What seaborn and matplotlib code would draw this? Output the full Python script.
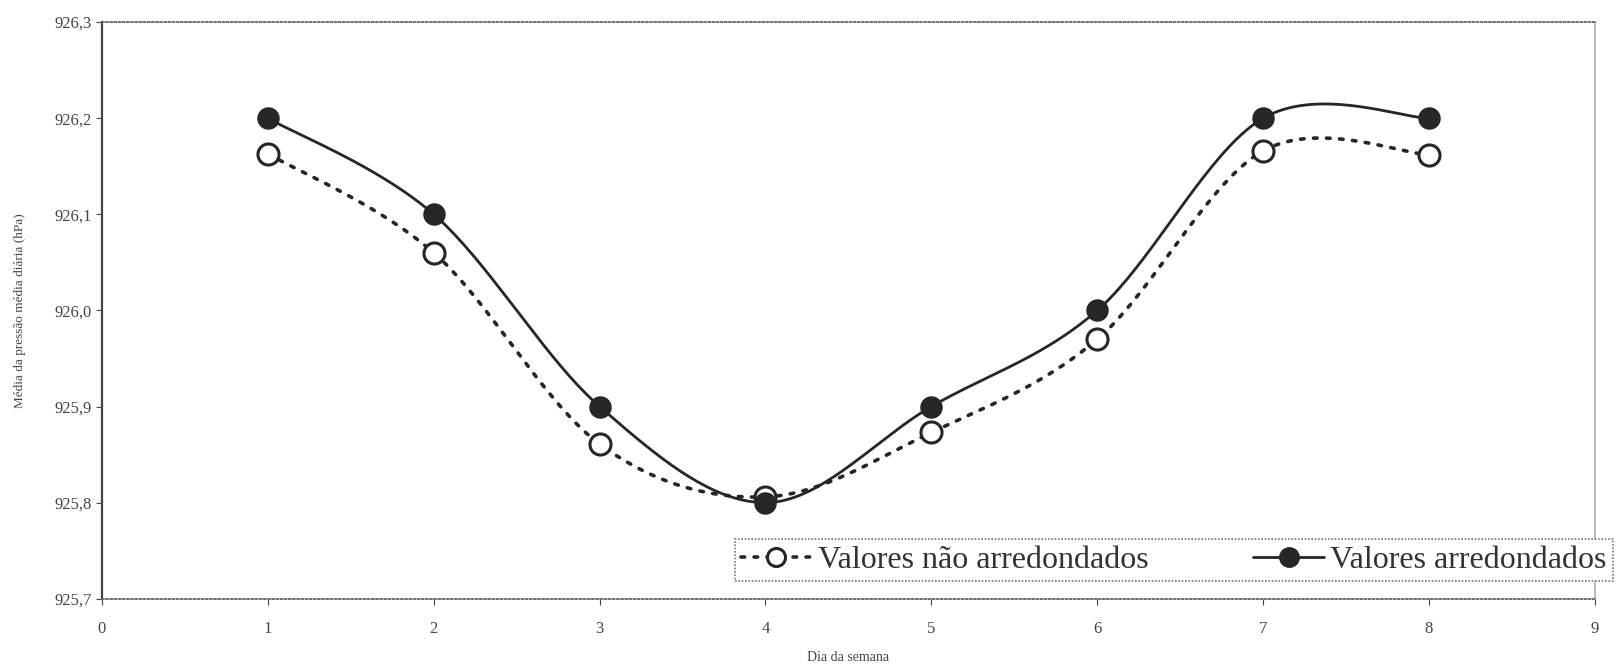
import numpy as np
import pandas as pd
import matplotlib
matplotlib.use("Agg")
import matplotlib.pyplot as plt
import seaborn as sns
from matplotlib.lines import Line2D

# ---- data ----
dias = [1, 2, 3, 4, 5, 6, 7, 8]
nao_arredondados = [926.163, 926.060, 925.861, 925.806, 925.873, 925.970, 926.166, 926.162]
arredondados = [926.2, 926.1, 925.9, 925.8, 925.9, 926.0, 926.2, 926.2]
xticks = [0, 1, 2, 3, 4, 5, 6, 7, 8, 9]
yticks = [925.7, 925.8, 925.9, 926.0, 926.1, 926.2, 926.3]
label_nao = "Valores não arredondados"
label_arr = "Valores arredondados"
xlabel = "Dia da semana"
ylabel = "Média da pressão média diária (hPa)"


def smooth(x, y, n=40):
    """Excel-like smoothed line (Catmull-Rom Bezier) through the points."""
    x = np.asarray(x, float)
    y = np.asarray(y, float)
    P = np.column_stack([x, y])
    out = []
    for i in range(len(P) - 1):
        p0 = P[i - 1] if i > 0 else P[i]
        p1 = P[i]
        p2 = P[i + 1]
        p3 = P[i + 2] if i + 2 < len(P) else P[i + 1]
        c1 = p1 + (p2 - p0) / 6.0
        c2 = p2 - (p3 - p1) / 6.0
        t = np.linspace(0, 1, n)[:, None]
        seg = ((1 - t) ** 3) * p1 + 3 * ((1 - t) ** 2) * t * c1 + 3 * (1 - t) * t ** 2 * c2 + t ** 3 * p2
        out.append(seg if i == 0 else seg[1:])
    s = np.vstack(out)
    return s[:, 0], s[:, 1]


sns.set_style("white")
plt.rcParams["font.family"] = ["Liberation Serif", "DejaVu Serif"]

fig = plt.figure(figsize=(16.21, 6.69), dpi=100)
ax = fig.add_axes([0.0629, 0.105, 0.921, 0.862])

col = "#262626"

xs, ys = smooth(dias, nao_arredondados)
sns.lineplot(x=xs, y=ys, ax=ax, sort=False, estimator=None, color=col,
             linewidth=2.6, linestyle=(0, (1, 2.6)), dash_capstyle="round")
xs2, ys2 = smooth(dias, arredondados)
sns.lineplot(x=xs2, y=ys2, ax=ax, sort=False, estimator=None, color=col, linewidth=2.0)

sns.scatterplot(x=dias, y=nao_arredondados, ax=ax, s=230, facecolor="white",
                edgecolor=col, linewidth=2.2, zorder=5)
sns.scatterplot(x=dias, y=arredondados, ax=ax, s=230, color=col,
                edgecolor=col, linewidth=1, zorder=6)

ax.set_xlim(0, 9)
ax.set_ylim(925.7, 926.3)
ax.set_xticks(xticks)
ax.set_xticklabels([str(v) for v in xticks])
ax.set_yticks(yticks)
ax.set_yticklabels([f"{v:.1f}".replace(".", ",") for v in yticks])
ax.tick_params(axis="both", labelsize=12, colors="#444444", length=4, width=0.8,
               direction="out", bottom=True, left=True)
ax.tick_params(axis="x", pad=12)

for s in ["top", "bottom"]:
    ax.spines[s].set_linestyle((0, (1, 1.3)))
    ax.spines[s].set_color("#666666")
    ax.spines[s].set_linewidth(1.3)
ax.spines["left"].set_color("#444444")
ax.spines["left"].set_linewidth(1.6)
ax.spines["right"].set_linestyle((0, (1, 1)))
ax.spines["right"].set_color("#bbbbbb")
ax.spines["right"].set_linewidth(1.4)

ax.set_xlabel(xlabel, fontsize=10, color="#444444", labelpad=10)
ax.set_ylabel(ylabel, fontsize=9.5, color="#444444", labelpad=20)

handles = [
    Line2D([0], [0], color=col, linewidth=2.6, linestyle=(0, (1, 2.6)),
           dash_capstyle="round", marker="o", markersize=13,
           markerfacecolor="white", markeredgecolor=col, markeredgewidth=2.2),
    Line2D([0], [0], color=col, linewidth=2.0, marker="o", markersize=14,
           markerfacecolor=col, markeredgecolor=col),
]
leg = ax.legend(handles, [label_nao, label_arr], ncol=2, loc="lower left",
                bbox_to_anchor=(0.424, 0.03, 0.588, 0.085), mode="expand",
                fontsize=23, handlelength=2.2,
                handletextpad=0.2, columnspacing=1.0, borderpad=0.2,
                borderaxespad=0.0,
                frameon=True, fancybox=False, framealpha=1)
leg.get_frame().set_edgecolor("#777777")
leg.get_frame().set_linestyle((0, (1, 1)))
leg.get_frame().set_linewidth(1.2)
for t in leg.get_texts():
    t.set_color("#333333")
leg.set_clip_on(False)

fig.savefig("out.png", dpi=100)
